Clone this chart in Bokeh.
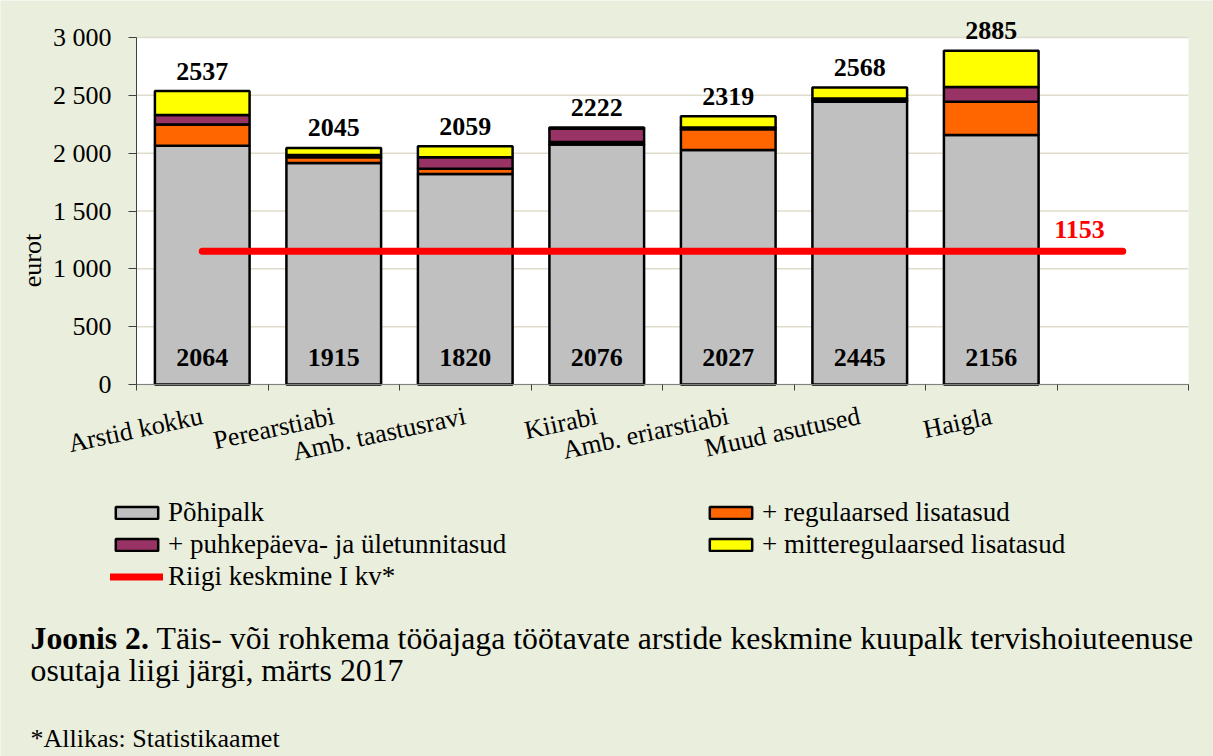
import math
from bokeh.plotting import figure
from bokeh.models import (ColumnDataSource, FixedTicker, Label, Legend, LegendItem,
                          BoxAnnotation, LinearAxis, Range1d)
from bokeh.embed import file_html
from bokeh.resources import INLINE
from bokeh.core.properties import value

# ---------------- data ----------------
categories = ["Arstid kokku", "Perearstiabi", "Amb. taastusravi", "Kiirabi",
              "Amb. eriarstiabi", "Muud asutused", "Haigla"]
pohipalk = [2064, 1915, 1820, 2076, 2027, 2445, 2156]
regulaarsed = [184, 50, 45, 20, 180, 10, 289]
puhkepaeva = [81, 20, 99, 115, 15, 18, 127]
mitteregulaarsed = [208, 60, 95, 11, 97, 95, 313]
totals = [2537, 2045, 2059, 2222, 2319, 2568, 2885]
riigi_keskmine = 1153
series_names = ["Põhipalk", "+ regulaarsed lisatasud",
                "+ puhkepäeva- ja ületunnitasud", "+ mitteregulaarsed lisatasud"]
line_name = "Riigi keskmine I kv*"
y_ticks = [0, 500, 1000, 1500, 2000, 2500, 3000]
y_tick_labels = ["0", "500", "1 000", "1 500", "2 000", "2 500", "3 000"]
y_axis_title = "eurot"
caption_bold = "Joonis 2."
caption_line1 = "Täis- või rohkema tööajaga töötavate arstide keskmine kuupalk tervishoiuteenuse"
caption_line2 = "osutaja liigi järgi, märts 2017"
source_note = "*Allikas: Statistikaamet"

# ---------------- layout / styles ----------------
FONT = "Liberation Serif"
BG = "#EAEEDC"
colors = ["#C0C0C0", "#FF6600", "#993366", "#FFFF00"]
W, H = 1213, 756
# plot area in canvas pixels (left, right, top, bottom)
PA_L, PA_R, PA_T, PA_B = 136, 1188, 37, 384

n_slots = len(categories) + 1
x_centers = [i + 0.5 for i in range(len(categories))]
boundaries = list(range(n_slots + 1))

px_per_slot = (PA_R - PA_L) / n_slots
px_per_unit = (PA_B - PA_T) / y_ticks[-1]
x_range = Range1d(-PA_L / px_per_slot, (W - PA_L) / px_per_slot)
y_range = Range1d(-(H - PA_B) / px_per_unit, PA_B / px_per_unit)

src = ColumnDataSource(dict(
    x=x_centers, cat=categories,
    s0=pohipalk, s1=regulaarsed, s2=puhkepaeva, s3=mitteregulaarsed,
    total=totals, total_txt=[str(v) for v in totals],
    base_txt=[str(v) for v in pohipalk], zero=[0] * len(categories),
))

p = figure(width=W, height=H, output_backend="svg", toolbar_location=None, title=None,
           x_range=x_range, y_range=y_range, x_axis_type=None, y_axis_type=None,
           min_border=0, tools="")
p.background_fill_color = BG
p.border_fill_color = BG
p.outline_line_color = None

# white plotting area
p.add_layout(BoxAnnotation(bottom=y_ticks[0], top=y_ticks[-1], left=0, right=n_slots,
                           fill_color="white", fill_alpha=1, line_color=None,
                           level="underlay"))

# horizontal grid lines across the plotting area
p.segment(x0=[0] * len(y_ticks), x1=[n_slots] * len(y_ticks), y0=y_ticks, y1=y_ticks,
          line_color="#E0DCCB", line_width=1.5)

# bars
bar_renderers = p.vbar_stack(["s0", "s1", "s2", "s3"], x="x", width=0.72, color=colors,
                             source=src, line_color="black", line_width=2.5)

# national average line
line_r = p.line(x=[x_centers[0], n_slots - 0.5], y=[riigi_keskmine, riigi_keskmine],
                line_color="#FF0000", line_width=7, line_cap="round")

# value labels
p.text(x="x", y="total", text="total_txt", source=src, text_align="center",
       text_baseline="alphabetic", y_offset=-20, text_font=value(FONT),
       text_font_style="bold", text_font_size="26px", text_color="black")
p.text(x="x", y="zero", text="base_txt", source=src, text_align="center",
       text_baseline="alphabetic", y_offset=-27, text_font=value(FONT),
       text_font_style="bold", text_font_size="26px", text_color="black")
p.text(x=[n_slots - 0.5], y=[riigi_keskmine], text=[str(riigi_keskmine)],
       text_align="right", text_baseline="alphabetic", x_offset=-18, y_offset=-22,
       text_font=value(FONT), text_font_style="bold", text_font_size="26px",
       text_color="#FF0000")

# axes (fixed at the plotting area edges)
yaxis = LinearAxis(fixed_location=0, bounds=(y_ticks[0], y_ticks[-1]),
                   ticker=FixedTicker(ticks=y_ticks))
yaxis.major_label_overrides = {t: l for t, l in zip(y_ticks, y_tick_labels)}
yaxis.major_label_text_font = FONT
yaxis.major_label_text_font_size = "26px"
yaxis.major_label_text_color = "black"
yaxis.major_tick_out = 8
yaxis.major_tick_in = 0
yaxis.minor_tick_line_color = None
yaxis.major_label_standoff = 17
yaxis.axis_line_color = "#404040"
yaxis.major_tick_line_color = "#404040"
p.add_layout(yaxis, "left")

xaxis = LinearAxis(fixed_location=0, bounds=(0, n_slots),
                   ticker=FixedTicker(ticks=x_centers, minor_ticks=boundaries))
xaxis.major_label_overrides = {x: c for x, c in zip(x_centers, categories)}
xaxis.major_label_orientation = math.radians(12)
xaxis.major_label_text_font = FONT
xaxis.major_label_text_font_size = "26px"
xaxis.major_label_text_color = "black"
xaxis.major_tick_line_color = None
xaxis.major_tick_out = 0
xaxis.minor_tick_out = 6
xaxis.minor_tick_in = 0
xaxis.minor_tick_line_color = "#404040"
xaxis.axis_line_color = "#808080"
xaxis.major_label_standoff = 25
p.add_layout(xaxis, "below")

# y axis title
p.add_layout(Label(x=32, y=H - 260, x_units="screen", y_units="screen", text=y_axis_title,
                   angle=math.pi / 2, text_align="center", text_baseline="middle",
                   text_font=FONT, text_font_size="26px", text_color="black"))

# legend
legend_items = [
    LegendItem(label=series_names[0], renderers=[bar_renderers[0]]),
    LegendItem(label=series_names[2], renderers=[bar_renderers[2]]),
    LegendItem(label=line_name, renderers=[line_r]),
    LegendItem(label=series_names[1], renderers=[bar_renderers[1]]),
    LegendItem(label=series_names[3], renderers=[bar_renderers[3]]),
]
legend = Legend(items=legend_items, location=(110, H - 592), orientation="vertical", nrows=3,
                glyph_width=53, glyph_height=15, label_standoff=5, label_width=536,
                label_height=32, spacing=0, padding=0, margin=0,
                border_line_color=None, background_fill_alpha=0,
                label_text_font=FONT, label_text_font_size="27px", label_text_color="black")
p.add_layout(legend)

# caption and source
p.add_layout(Label(x=30, y=H - 638, x_units="screen", y_units="screen", text=caption_bold,
                   text_baseline="middle", text_font=FONT, text_font_style="bold",
                   text_font_size="31.8px", text_color="black"))
p.add_layout(Label(x=156, y=H - 638, x_units="screen", y_units="screen", text=caption_line1,
                   text_baseline="middle", text_font=FONT,
                   text_font_size="31.8px", text_color="black"))
p.add_layout(Label(x=30, y=H - 670, x_units="screen", y_units="screen", text=caption_line2,
                   text_baseline="middle", text_font=FONT,
                   text_font_size="31.8px", text_color="black"))
p.add_layout(Label(x=30, y=H - 738, x_units="screen", y_units="screen", text=source_note,
                   text_baseline="middle", text_font=FONT,
                   text_font_size="26px", text_color="black"))

open("out.html", "w").write(file_html(p, INLINE))
